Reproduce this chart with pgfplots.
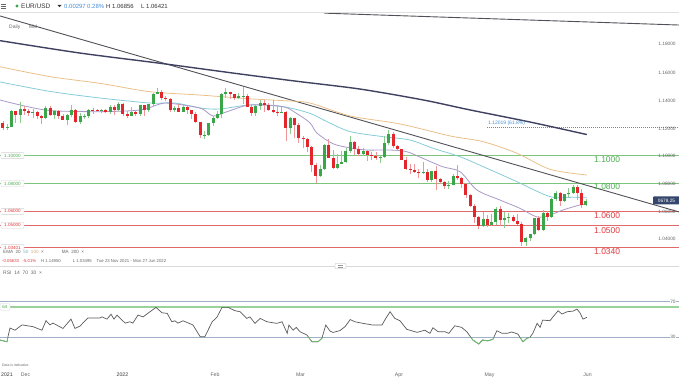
\documentclass[border=0pt]{standalone}
\usepackage{pgfplots}
\pgfplotsset{compat=1.18}
\usepackage{pgfplotstable}
\usepackage{fontspec}
\setmainfont{Liberation Sans}

\definecolor{upbody}{HTML}{3BA54A}
\definecolor{dnbody}{HTML}{E3262B}
\definecolor{upwick}{HTML}{8ACB8E}
\definecolor{dnwick}{HTML}{F0959A}
\definecolor{emaA}{HTML}{A999C8}
\definecolor{emaB}{HTML}{86CCD8}
\definecolor{emaC}{HTML}{EAC089}
\definecolor{maD}{HTML}{3E4160}
\definecolor{trend}{HTML}{505058}
\definecolor{lvlgreen}{HTML}{7DC47D}
\definecolor{lvlred}{HTML}{E06A6A}
\definecolor{txtgreen}{HTML}{4CAF50}
\definecolor{txtred}{HTML}{E0393E}
\definecolor{fibblue}{HTML}{4A8FD8}
\definecolor{rsilvl}{HTML}{9FB0C8}
\definecolor{rsigreen}{HTML}{6DBF6D}
\definecolor{rsiband}{HTML}{9AD39A}
\definecolor{pricebox}{HTML}{34466B}
\definecolor{gtext}{HTML}{666666}
\definecolor{dtext}{HTML}{333333}

% trading-day index: 0 = 1 Dec 2021
\pgfplotstableread{
i o h l c
-5 1.1235 1.1250 1.1186 1.1199
-4 1.1199 1.1227 1.1185 1.1208
-3 1.1208 1.1326 1.1203 1.1318
-2 1.1318 1.1320 1.1235 1.1291
-1 1.1291 1.1383 1.1235 1.1337
0 1.1337 1.1353 1.1293 1.1321
1 1.1321 1.1333 1.1282 1.1306
2 1.1306 1.1334 1.1272 1.1315
3 1.1315 1.1320 1.1262 1.1285
4 1.1285 1.1293 1.1227 1.1267
5 1.1267 1.1355 1.1265 1.1343
6 1.1343 1.1352 1.1285 1.1290
7 1.1290 1.1325 1.1262 1.1318
8 1.1318 1.1329 1.1265 1.1285
9 1.1285 1.1300 1.1256 1.1258
10 1.1258 1.1295 1.1222 1.1290
11 1.1290 1.1360 1.1275 1.1330
12 1.1330 1.1335 1.1236 1.1240
13 1.1240 1.1305 1.1223 1.1282
14 1.1282 1.1301 1.1261 1.1283
15 1.1283 1.1336 1.1270 1.1330
16 1.1330 1.1344 1.1300 1.1325
17 1.1325 1.1333 1.1313 1.1318
18 1.1318 1.1333 1.1305 1.1327
19 1.1327 1.1336 1.1302 1.1309
20 1.1309 1.1366 1.1297 1.1350
21 1.1350 1.1360 1.1290 1.1325
22 1.1325 1.1386 1.1318 1.1370
23 1.1370 1.1376 1.1281 1.1300
24 1.1300 1.1323 1.1272 1.1287
25 1.1287 1.1346 1.1284 1.1314
26 1.1314 1.1327 1.1286 1.1296
27 1.1296 1.1364 1.1286 1.1360
28 1.1360 1.1363 1.1286 1.1325
29 1.1325 1.1373 1.1310 1.1368
30 1.1368 1.1446 1.1356 1.1440
31 1.1440 1.1483 1.1439 1.1456
32 1.1456 1.1469 1.1399 1.1413
33 1.1413 1.1428 1.1393 1.1404
34 1.1404 1.1410 1.1311 1.1325
35 1.1325 1.1359 1.1312 1.1344
36 1.1344 1.1369 1.1310 1.1313
37 1.1313 1.1364 1.1312 1.1346
38 1.1346 1.1358 1.1301 1.1326
39 1.1326 1.1330 1.1263 1.1300
40 1.1300 1.1310 1.1235 1.1241
41 1.1241 1.1244 1.1128 1.1145
42 1.1145 1.1174 1.1121 1.1146
43 1.1146 1.1237 1.1139 1.1235
44 1.1235 1.1283 1.1215 1.1270
45 1.1270 1.1318 1.1265 1.1300
46 1.1300 1.1450 1.1270 1.1440
47 1.1440 1.1483 1.1410 1.1455
48 1.1455 1.1458 1.1407 1.1440
49 1.1440 1.1444 1.1399 1.1415
50 1.1415 1.1449 1.1403 1.1425
51 1.1425 1.1495 1.1373 1.1427
52 1.1427 1.1441 1.1345 1.1348
53 1.1348 1.1369 1.1281 1.1305
54 1.1305 1.1368 1.1286 1.1357
55 1.1357 1.1395 1.1329 1.1378
56 1.1378 1.1395 1.1315 1.1361
57 1.1361 1.1374 1.1321 1.1325
58 1.1325 1.1395 1.1303 1.1310
59 1.1310 1.1360 1.1285 1.1307
60 1.1307 1.1347 1.1306 1.1310
61 1.1310 1.1320 1.1106 1.1196
62 1.1196 1.1274 1.1155 1.1268
63 1.1268 1.1272 1.1123 1.1220
64 1.1220 1.1236 1.1089 1.1125
65 1.1125 1.1138 1.1052 1.1120
66 1.1120 1.1123 1.1029 1.1064
67 1.1064 1.1071 1.0880 1.0930
68 1.0930 1.0947 1.0806 1.0855
69 1.0855 1.0935 1.0850 1.0905
70 1.0905 1.1080 1.0900 1.1075
71 1.1075 1.1121 1.0980 1.0985
72 1.0985 1.1042 1.0903 1.0912
73 1.0912 1.1011 1.0905 1.0942
74 1.0942 1.1030 1.0937 1.0955
75 1.0955 1.1053 1.0950 1.1034
76 1.1034 1.1138 1.1020 1.1095
77 1.1095 1.1104 1.1003 1.1050
78 1.1050 1.1067 1.0995 1.1015
79 1.1015 1.1053 1.0995 1.1031
80 1.1031 1.1037 1.0962 1.1005
81 1.1005 1.1027 1.0966 1.0995
82 1.0995 1.1028 1.0969 1.0985
83 1.0985 1.1000 1.0945 1.0987
84 1.0987 1.1137 1.0983 1.1087
85 1.1087 1.1185 1.1076 1.1158
86 1.1158 1.1171 1.1055 1.1067
87 1.1067 1.1077 1.1030 1.1045
88 1.1045 1.1050 1.0970 1.0972
89 1.0972 1.0993 1.0900 1.0905
90 1.0905 1.0940 1.0866 1.0900
91 1.0900 1.0937 1.0875 1.0882
92 1.0882 1.0905 1.0836 1.0877
93 1.0877 1.0954 1.0871 1.0885
94 1.0885 1.0905 1.0812 1.0825
95 1.0825 1.0890 1.0810 1.0890
96 1.0890 1.0925 1.0757 1.0830
97 1.0830 1.0838 1.0800 1.0810
98 1.0810 1.0816 1.0761 1.0780
99 1.0780 1.0815 1.0760 1.0787
100 1.0787 1.0871 1.0787 1.0852
101 1.0852 1.0936 1.0827 1.0837
102 1.0837 1.0850 1.0770 1.0793
103 1.0793 1.0806 1.0697 1.0715
104 1.0715 1.0727 1.0634 1.0640
105 1.0640 1.0650 1.0514 1.0557
106 1.0557 1.0569 1.0471 1.0496
107 1.0496 1.0594 1.0490 1.0545
108 1.0545 1.0572 1.0490 1.0505
109 1.0505 1.0578 1.0492 1.0522
110 1.0522 1.0630 1.0505 1.0620
111 1.0620 1.0642 1.0492 1.0540
112 1.0540 1.0594 1.0483 1.0550
113 1.0550 1.0590 1.0520 1.0560
114 1.0560 1.0577 1.0527 1.0530
115 1.0530 1.0580 1.0502 1.0512
116 1.0512 1.0522 1.0354 1.0380
117 1.0380 1.0420 1.0350 1.0410
118 1.0410 1.0440 1.0390 1.0435
119 1.0435 1.0555 1.0430 1.0550
120 1.0550 1.0566 1.0460 1.0465
121 1.0465 1.0607 1.0460 1.0588
122 1.0588 1.0600 1.0530 1.0560
123 1.0560 1.0695 1.0550 1.0690
124 1.0690 1.0748 1.0675 1.0735
125 1.0735 1.0737 1.0640 1.0674
126 1.0674 1.0727 1.0665 1.0725
127 1.0725 1.0765 1.0700 1.0735
128 1.0735 1.0787 1.0728 1.0777
129 1.0777 1.0786 1.0680 1.0733
130 1.0733 1.0764 1.0627 1.0648
131 1.0648 1.0686 1.0642 1.0678
}\ohlc

\pgfplotstableread{
i v
-5.7 1.1824
13.0 1.1735
31.6 1.1662
50.3 1.1585
64.3 1.1530
78.3 1.1477
93.0 1.1399
104.0 1.1327
117.9 1.1241
131.2 1.1151
}\maD

\pgfplotstableread{
i v
-5.7 1.1637
6.0 1.1566
17.6 1.1518
29.3 1.1458
41.0 1.1434
52.6 1.1407
60.3 1.1394
66.6 1.1377
76.0 1.1284
87.6 1.1227
99.3 1.1141
107.0 1.1100
114.9 1.1017
122.6 1.0902
131.2 1.0861
}\emaC

\pgfplotstableread{
i v
-5.7 1.1528
6.0 1.1460
17.6 1.1413
29.3 1.1377
35.1 1.1377
41.0 1.1341
45.6 1.1334
52.6 1.1363
60.3 1.1351
66.6 1.1303
70.6 1.1243
76.0 1.1172
83.6 1.1136
89.9 1.1112
95.3 1.1053
101.6 1.0992
107.0 1.0921
114.9 1.0813
122.6 1.0706
128.0 1.0701
131.2 1.0701
}\emaB

\pgfplotstableread{
i v
-5.7 1.1399
-1.0 1.1363
6.0 1.1323
17.6 1.1315
27.0 1.1327
31.6 1.1370
33.9 1.1375
41.0 1.1341
44.0 1.1284
47.3 1.1315
52.6 1.1363
60.3 1.1351
63.6 1.1300
66.6 1.1235
68.3 1.1160
72.0 1.1085
76.0 1.1055
79.9 1.1040
85.3 1.1040
89.2 1.1028
92.9 1.0981
97.6 1.0920
101.6 1.0885
105.6 1.0753
110.9 1.0682
115.6 1.0622
119.6 1.0560
122.6 1.0574
125.6 1.0610
129.6 1.0646
131.2 1.0651
}\emaA

\pgfplotstableread{
i v
-5.7 27
-4.06 25
-3.83 30.7
-3.36 40.4
-2.19 38
-0.56 44
2.0 42
4.1 38
5.04 48.7
5.97 44
6.67 46
9.0 40
10.87 50.5
11.8 40
12.97 42.7
14.8 51.7
17.6 51.7
18.1 53
19.27 50.5
20.2 56
20.9 50.5
21.6 55
23.5 46
24.6 47.5
25.3 46
26.5 55
27.7 53
29.3 58.8
30.7 63.7
32.1 57.6
33.3 57
34.4 47.5
35.1 48.6
35.8 46
37.0 48.6
39.3 44
41.0 30.7
42.1 30.7
43.8 47.5
44.9 52.5
46.1 63.7
47.5 63.7
49.1 60
50.3 58.8
51.9 51.3
52.6 53
53.8 45.7
55.0 51.3
56.6 47.5
58.9 45.7
60.1 47.5
61.3 34.5
61.7 43.8
62.7 38
63.4 41.2
64.3 36.3
65.9 32.6
67.1 25
68.5 25
69.4 28.9
70.3 43.8
71.3 37
72.0 35.5
73.6 37.6
74.8 42
76.0 50
77.1 47.5
79.0 45.7
81.3 43.8
83.4 43.8
84.3 51.3
85.3 58.8
86.4 51.3
87.6 48.7
89.2 39
91.6 35.6
93.4 38
94.6 34.5
95.3 40.8
96.5 36.3
98.1 36.3
99.0 34.5
100.4 43
102.0 41.2
103.2 36.3
104.6 27
106.0 22.5
106.9 27
108.1 26
109.3 27.8
110.2 37.4
111.4 34.5
112.6 34.5
113.7 36
115.1 33.7
116.3 25
117.2 28.9
117.9 30
118.6 34.5
119.6 45.7
120.3 41.2
120.9 49.4
122.6 48.7
123.3 53
124.5 59.9
125.4 56.2
126.6 58.8
128.0 59.5
128.9 61.8
129.6 57.6
130.3 50.5
131.2 52.5
}\rsi

\pgfplotsset{
  chartaxis/.style={scale only axis, width=679bp, xmin=-5.69, xmax=152.7,
    axis lines=none, clip=true},
}

\begin{document}
\begin{tikzpicture}[x=1bp,y=1bp]
\useasboundingbox (0bp,0bp) rectangle (679bp,381bp);

% horizontal price levels (1.1000, 1.0800 green; 1.0600, 1.0500, 1.0340 red), drawn first so candles sit on top
\draw[lvlgreen, line width=1bp] (0,225.4)--(679,225.4);
\draw[lvlgreen, line width=1bp] (0,197.5)--(679,197.5);
\draw[lvlred, line width=1bp] (0,169.6)--(679,169.6);
\draw[lvlred, line width=1bp] (0,155.7)--(679,155.7);
\draw[lvlred, line width=1bp] (0,133.4)--(679,133.4);
\draw[fibblue, line width=0.9bp, dash pattern=on 0.9bp off 1.1bp] (487,253.6)--(679,253.6);
% RSI 70 / 30 levels
\draw[rsilvl, line width=0.9bp] (0,79.3)--(679,79.3);
\draw[rsilvl, line width=0.9bp] (0,43.7)--(679,43.7);

% ---------------- main price panel ----------------
\begin{axis}[chartaxis, at={(0bp,131bp)}, anchor=south west, height=237bp,
  ymin=1.03234, ymax=1.20222]
  % trend lines
  \addplot[color=trend, line width=0.9bp] coordinates {(-5.69,1.2001) (152.7,1.0596)};
  \addplot[color=trend, line width=0.9bp] coordinates {(70,1.2021) (152.7,1.1936)};
  % moving averages
  \addplot[color=maD, line width=1.4bp, smooth] table[x=i,y=v] {\maD};
  \addplot[color=emaC, line width=0.8bp, smooth] table[x=i,y=v] {\emaC};
  \addplot[color=emaB, line width=0.8bp, smooth] table[x=i,y=v] {\emaB};
  \addplot[color=emaA, line width=0.8bp, smooth] table[x=i,y=v] {\emaA};
  % wicks (the other direction is parked outside the x range)
  \addplot[color=upwick, line width=0.8bp, quiver={u=0, v={\thisrow{h}-\thisrow{l}}}]
    table[x expr={\thisrow{c}>=\thisrow{o} ? \thisrow{i} : -100}, y=l] {\ohlc};
  \addplot[color=dnwick, line width=0.8bp, quiver={u=0, v={\thisrow{h}-\thisrow{l}}}]
    table[x expr={\thisrow{c}<\thisrow{o} ? \thisrow{i} : -100}, y=l] {\ohlc};
  % bodies
  \addplot[color=upbody, line width=3bp, line cap=butt, quiver={u=0, v={max(\thisrow{c}-\thisrow{o},0.0003)}}]
    table[x expr={\thisrow{c}>=\thisrow{o} ? \thisrow{i} : -100}, y=o] {\ohlc};
  \addplot[color=dnbody, line width=3bp, line cap=butt, quiver={u=0, v={max(\thisrow{o}-\thisrow{c},0.0003)}}]
    table[x expr={\thisrow{c}<\thisrow{o} ? \thisrow{i} : -100}, y=c] {\ohlc};
\end{axis}

% ---------------- RSI panel ----------------
\begin{axis}[chartaxis, at={(0bp,13bp)}, anchor=south west, height=100bp,
  ymin=-4.5, ymax=108]
  \addplot[draw=rsiband, line width=2bp] coordinates {(-5.69,64) (152.7,64)};
  \addplot[color=black!65, line width=0.7bp] table[x=i,y=v] {\rsi};
\end{axis}
% green part of RSI below 30 (clipped axis)
\begin{axis}[chartaxis, at={(0bp,13bp)}, anchor=south west, height=30.667bp,
  ymin=-4.5, ymax=30]
  \addplot[color=rsigreen, line width=0.8bp] table[x=i,y=v] {\rsi};
\end{axis}

% ---------------- header ----------------
\fill[white] (0,369) rectangle (679,381);
\draw[gtext, line width=0.6bp] (1,377)--(6,377) (1,375)--(6,375) (1,373)--(6,373);
\fill[upbody] (17,375) circle (1.7);
\node[anchor=west, inner sep=0, text=dtext, font=\fontsize{6.5}{7}\selectfont] at (21,375) {EUR/USD};
\fill[dtext] (57.5,376)--(61.5,376)--(59.5,373.8)--cycle;
\node[anchor=west, inner sep=0, text=fibblue, font=\fontsize{6}{7}\selectfont] at (64,375) {0.00297};
\node[anchor=west, inner sep=0, text=fibblue, font=\fontsize{6}{7}\selectfont] at (87,375) {0.28\%};
\node[anchor=west, inner sep=0, text=dtext, font=\fontsize{6}{7}\selectfont] at (106,375) {H 1.06856};
\node[anchor=west, inner sep=0, text=dtext, font=\fontsize{6}{7}\selectfont] at (141,375) {L 1.06421};
\draw[black!12, line width=0.6bp] (0,368.5)--(679,368.5);
\node[anchor=west, inner sep=0, text=gtext, font=\fontsize{5}{6}\selectfont] at (9,354) {Daily};
\node[anchor=west, inner sep=0, text=gtext, font=\fontsize{5}{6}\selectfont] at (29,354) {Mid};

% fib label
\node[anchor=west, inner sep=0, text=fibblue, font=\fontsize{5}{6}\selectfont] at (488,257.5) {1.12019 (61.8\%)};

% left level boxes
\foreach \yy/\lab/\col in {225.4/1.10000/txtgreen, 197.5/1.08000/txtgreen, 169.6/1.06000/txtred, 155.7/1.05000/txtred, 133.4/1.03401/txtred}{
  \node[draw=black!18, fill=white, rounded corners=0.8bp, minimum width=23bp, minimum height=6bp,
    inner sep=0, text=\col, font=\fontsize{4.6}{5}\selectfont] at (12.5,\yy) {\lab};
}

% legend strip (below the price panel)
\fill[white] (0,115.5) rectangle (679,131);
\node[anchor=west, inner sep=0, font=\fontsize{4.6}{5}\selectfont] at (3,128.7)
  {\textcolor{gtext}{EMA\ \ 20}\ \ \textcolor{emaB!90!black}{50}\ \ \textcolor{emaC!90!black}{100}\ \ \textcolor{gtext}{×}\hspace{18bp}\textcolor{gtext}{MA\ \ 200\ \ ×}};
\node[anchor=west, inner sep=0, font=\fontsize{4.3}{5}\selectfont] at (2,120.3)
  {\textcolor{txtred}{-0.05633\ \ \ -5.01\%}\ \ \ \ \textcolor{gtext}{H 1.14950\hspace{12bp}L 1.03495\ \ \ \ Tue 23 Nov 2021 - Mon 27 Jun 2022}};

% right big level labels
\node[anchor=west, inner sep=0, text=txtgreen, font=\fontsize{8.5}{9}\selectfont] at (594,221.3) {1.1000};
\node[anchor=west, inner sep=0, text=txtgreen, font=\fontsize{8.5}{9}\selectfont] at (594,194) {1.0800};
\node[anchor=west, inner sep=0, text=txtred, font=\fontsize{8.5}{9}\selectfont] at (594,165) {1.0600};
\node[anchor=west, inner sep=0, text=txtred, font=\fontsize{8.5}{9}\selectfont] at (594,150.7) {1.0500};
\node[anchor=west, inner sep=0, text=txtred, font=\fontsize{8.5}{9}\selectfont] at (594,129.7) {1.0340};

% right price scale
\foreach \yy/\lab in {337/1.18000, 308.3/1.16000, 280.3/1.14000, 252.6/1.12000, 225.4/1.10000, 197.5/1.08000, 169.6/1.06000, 141.7/1.04000}{
  \node[anchor=center, inner sep=0, text=gtext, font=\fontsize{4.8}{5}\selectfont] at (667,\yy) {\lab};
}
% current price box
\fill[pricebox, rounded corners=0.8bp] (653,176.5) rectangle (681,184.5);
\node[anchor=center, inner sep=0, text=white, font=\fontsize{4.8}{5}\selectfont] at (666.5,180.5) {0678.25};

% panel separator
\draw[black!15, line width=0.6bp] (0,115)--(679,115);
\draw[black!30, fill=white, rounded corners=0.8bp, line width=0.4bp] (335,112.5) rectangle (346,117.5);
\draw[black!40, line width=0.3bp] (338,115.8)--(343,115.8) (338,114.2)--(343,114.2);

% RSI texts
\node[anchor=west, inner sep=0, text=gtext, font=\fontsize{5}{6}\selectfont] at (3,108) {RSI\ \ 14\ \ 70\ \ 30\ \ ×};
\node[draw=black!18, fill=white, rounded corners=0.8bp, minimum width=10bp, minimum height=6.5bp,
  inner sep=0, text=txtgreen, font=\fontsize{4.6}{5}\selectfont] at (5,74) {64};
\node[fill=white, inner sep=0.6bp, text=gtext, font=\fontsize{4.8}{5}\selectfont] at (673,79.3) {70};
\node[fill=white, inner sep=0.6bp, text=gtext, font=\fontsize{4.8}{5}\selectfont] at (673,43.7) {30};
\node[anchor=west, inner sep=0, text=gtext, font=\fontsize{3.5}{4}\selectfont] at (2,16) {Data is indicative};

% time axis labels
\node[anchor=west, inner sep=0, text=dtext, font=\fontsize{5.2}{6}\selectfont] at (1,6) {2021};
\foreach \xx/\lab in {25.5/Dec, 215/Feb, 300.5/Mar, 399/Apr, 489.5/May, 587.5/Jun}{
  \node[anchor=center, inner sep=0, text=gtext, font=\fontsize{5.2}{6}\selectfont] at (\xx,6) {\lab};
}
\node[anchor=center, inner sep=0, text=dtext, font=\fontsize{5.2}{6}\selectfont] at (122.5,6) {2022};
\end{tikzpicture}
\end{document}
